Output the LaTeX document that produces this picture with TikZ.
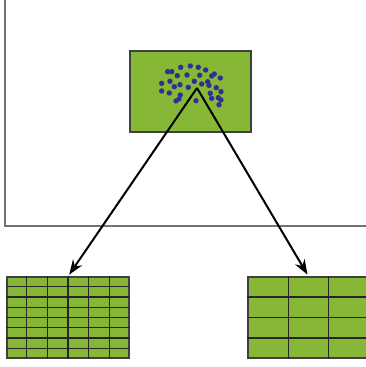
\documentclass[tikz,border=0pt]{standalone}
\usetikzlibrary{arrows.meta,calc,positioning}
\definecolor{leafgreen}{RGB}{134,183,54}
\definecolor{dotblue}{RGB}{46,49,146}
\tikzset{
    panel/.style={draw=black!75, fill=leafgreen, inner sep=0pt, line width=1.3pt},
    cellline/.style={draw=black!85, line width=1.2pt},
    spot/.style={fill=dotblue},
    split/.style={-{Stealth[length=15pt,width=11pt]}, line width=2pt, shorten >=2pt},
    frame/.style={draw=black!55, line width=1.8pt}
}

\begin{document}
\begin{tikzpicture}[x=1pt, y=-1pt]
  \useasboundingbox (0,0) rectangle (365,367);

  % frame
  \coordinate (corner) at (5,226);
  \draw[frame] (5,-1) -- (corner) -- (366,226);

  % sample with points
  \node[panel, minimum width=121pt, minimum height=81pt] (sample) at (190.5,91.5) {};
  \foreach \x/\y in {167.7/71.7, 171.7/71.7, 180.7/67.3, 190.3/66, 198.3/67.3, 205.7/70,
                     177.3/75.7, 187/75, 199.7/75.3, 211.7/76, 214.3/74, 220.3/78,
                     161.7/83.3, 170/81.3, 174.3/86.7, 180/84.7, 188.3/87.3, 194.3/81.3,
                     201.7/84, 207.7/81.7, 209/85.3, 216.3/87.7, 221/91.7,
                     161.7/91, 169.3/93, 180.3/95, 179/99, 176/101, 196/100.7,
                     210.3/93.3, 211.7/98.3, 218.3/97.7, 221/100, 219/104.7}
    \fill[spot] (\x,\y) circle (2.7pt);
  \coordinate (apex) at (197,88);

  % fine and coarse grids
  \node[panel, minimum width=122pt, minimum height=81pt] (fine) at (68,317.5) {};
  \node[panel, minimum width=121pt, minimum height=81pt] (coarse) at (308.5,317.5) {};
  \foreach \i in {1,...,5}
    \draw[cellline] ($(fine.north west)!\i/6!(fine.north east)$) -- ($(fine.south west)!\i/6!(fine.south east)$);
  \foreach \i in {1,...,7}
    \draw[cellline] ($(fine.north west)!\i/8!(fine.south west)$) -- ($(fine.north east)!\i/8!(fine.south east)$);
  \foreach \i in {1,2}
    \draw[cellline] ($(coarse.north west)!\i/3!(coarse.north east)$) -- ($(coarse.south west)!\i/3!(coarse.south east)$);
  \foreach \i in {1,2,3}
    \draw[cellline] ($(coarse.north west)!\i/4!(coarse.south west)$) -- ($(coarse.north east)!\i/4!(coarse.south east)$);

  % arrows
  \draw[split] (apex) -- (fine.north);
  \draw[split] (apex) -- (coarse.north);
\end{tikzpicture}
\end{document}
